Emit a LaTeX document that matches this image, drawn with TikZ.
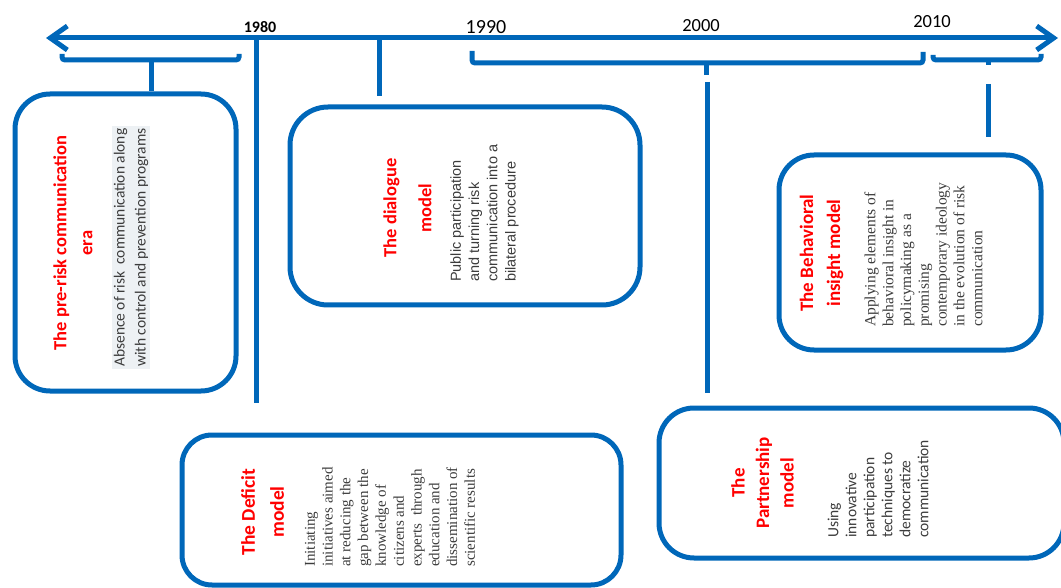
\documentclass[tikz,border=0pt]{standalone}
\usepackage{fontspec}
\setmainfont{Carlito}
\newfontfamily\arialf{Liberation Sans}
\newfontfamily\timesf{Liberation Serif}
\usetikzlibrary{arrows.meta}
\definecolor{tlblue}{RGB}{0,103,185}
\definecolor{tlred}{RGB}{255,0,0}
\definecolor{tlgray}{RGB}{60,60,60}
\definecolor{tlhl}{RGB}{237,241,244}
\begin{document}
\begin{tikzpicture}[x=1pt,y=-1pt,
  blueline/.style={draw=tlblue,line width=5pt},
  bracket/.style={draw=tlblue,line width=5pt,rounded corners=3pt},
  box/.style={draw=tlblue,line width=5pt,rounded corners=35pt,rectangle,inner sep=0pt},
  ttl/.style={rotate=90,align=center,text=tlred,inner sep=0pt},
  body/.style={rotate=90,align=left,text=tlgray,inner sep=0pt,anchor=west},
  year/.style={text=black,inner sep=0pt}]
\useasboundingbox (0,0) rectangle (1061,588);
% axis
\coordinate (axL) at (46,38);
\coordinate (axR) at (1058,38);
\draw[blueline,{Straight Barb[length=17pt,width=24pt]}-{Straight Barb[length=17pt,width=24pt]}] (axL) -- (axR);
% years
\node[year,font=\bfseries\fontsize{16}{16}\selectfont] (y1980) at (260,27) {1980};
\node[year,font=\fontsize{20}{20}\selectfont] (y1990) at (486,27) {1990};
\node[year,font=\fontsize{18.5}{18.5}\selectfont] (y2000) at (701,26) {2000};
\node[year,font=\fontsize{18.5}{18.5}\selectfont] (y2010) at (932,22) {2010};
% boxes
\node[box,minimum width=221pt,minimum height=297pt] (pre) at (125.5,242.5) {};
\node[box,minimum width=350pt,minimum height=198pt,rounded corners=38pt] (dlg) at (465,206) {};
\node[box,minimum width=262pt,minimum height=195pt] (beh) at (910,252.5) {};
\node[box,minimum width=439pt,minimum height=150pt,rounded corners=30pt] (def) at (401.5,510) {};
\node[box,minimum width=405pt,minimum height=150pt] (par) at (861.5,483) {};
% brackets
\draw[bracket] (62,54) -- (62,60) -- (239,60) -- (239,54);
\draw[bracket] (472,51) -- (472,63) -- (923,63) -- (923,52);
\draw[bracket] (933,55) -- (933,60) -- (1041,60) -- (1041,54);
% stems
\coordinate (b1c) at (151,60);
\draw[blueline] (b1c) -- (b1c |- pre.north);
\coordinate (t1980) at (256,38);
\coordinate (e1980) at (256,403);
\draw[blueline] (t1980) -- (e1980);
\coordinate (tdlg) at (379,38);
\coordinate (edlg) at (379,96);
\draw[blueline] (tdlg) -- (edlg);
\coordinate (b2c) at (706,63);
\coordinate (b2t) at (706,75);
\draw[blueline] (b2c) -- (b2t);
\coordinate (s2000) at (707,82);
\coordinate (e2000) at (707,393);
\draw[blueline] (s2000) -- (e2000);
\coordinate (b3c) at (988,60);
\coordinate (b3t) at (988,65);
\draw[blueline] (b3c) -- (b3t);
\coordinate (s2010) at (988,84);
\coordinate (e2010) at (988,137);
\draw[blueline] (s2010) -- (e2010);
% texts
\node[ttl,font=\bfseries\fontsize{18.5}{26}\selectfont] (preT) at (73,243) {The pre-risk communication\\era};
\node[body,font=\fontsize{15.5}{21}\selectfont,fill=tlhl,inner sep=2pt] (preB) at (131,369) {Absence of risk\ \ communication along\\with control and prevention programs};
\node[ttl,font=\bfseries\fontsize{18.5}{35}\selectfont] (dlgT) at (407.5,208) {The dialogue\\model};
\node[body,font=\arialf\fontsize{14.5}{18.3}\selectfont] (dlgB) at (484.5,282) {Public participation\\and turning risk\\communication into a\\bilateral procedure};
\node[ttl,font=\bfseries\fontsize{19}{27}\selectfont] (behT) at (821.5,253) {The Behavioral\\insight model};
\node[body,font=\timesf\fontsize{15.5}{17.8}\selectfont] (behB) at (923.5,327) {Applying elements of\\behavioral insight in\\policymaking as a\\promising\\contemporary ideology\\in the evolution of risk\\communication};
\node[ttl,font=\bfseries\fontsize{19.5}{29}\selectfont] (defT) at (262.5,512) {The Deficit\\model};
\node[body,font=\timesf\fontsize{15}{17.8}\selectfont] (defB) at (390,567) {Initiating\\initiatives aimed\\at reducing the\\gap between the\\knowledge of\\citizens and\\experts\ \ through\\education and\\dissemination of\\scientific results};
\node[ttl,font=\bfseries\fontsize{19}{24.5}\selectfont] (parT) at (762.5,483) {The\\Partnership\\model};
\node[body,font=\fontsize{15.5}{18}\selectfont] (parB) at (878,538) {Using\\innovative\\participation\\techniques to\\democratize\\communication};
\end{tikzpicture}
\end{document}
